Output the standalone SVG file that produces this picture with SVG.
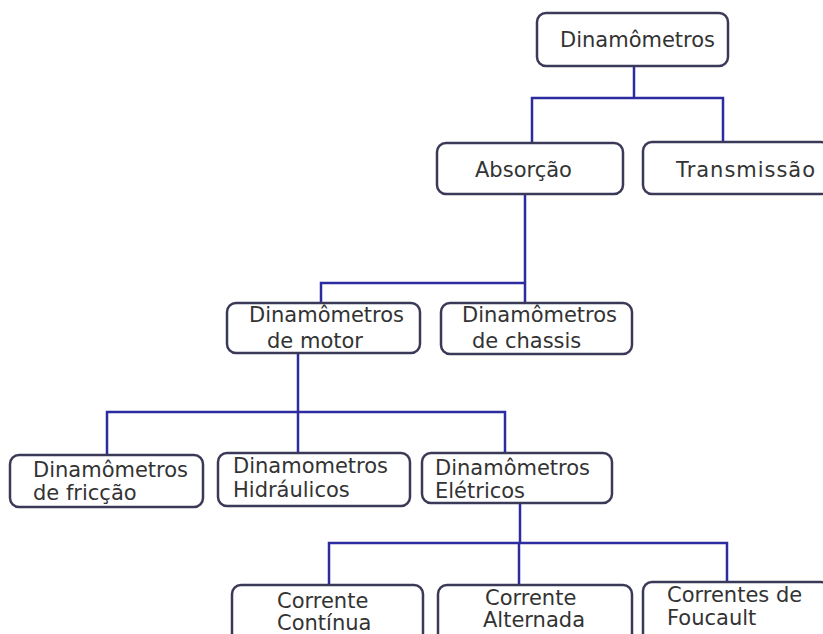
<svg xmlns="http://www.w3.org/2000/svg" width="823" height="634" viewBox="0 0 823 634">
<style>
.box{fill:#ffffff;stroke:#3a3a58;stroke-width:2.5}
.t{font-family:"DejaVu Sans",Verdana,sans-serif;font-size:21px;fill:#333333}
.c{fill:none;stroke:#2c2ca0;stroke-width:2.5}
</style>
<rect width="823" height="634" fill="#ffffff"/>
<g id="connectors">
<path class="c" d="M634 66V98M532 143V98H723V143"/>
<path class="c" d="M525 194V283M321 303V283H525V303"/>
<path class="c" d="M298 353V412M107 455V412H505V453M298 412V453"/>
<path class="c" d="M520 503V543M329 585V543H727V582M519 543V585"/>
</g>
<g id="dinamometros"><rect class="box" x="537" y="13" width="191" height="53" rx="9"/><text class="t" x="560" y="47">Dinamômetros</text></g>
<g id="absorcao"><rect class="box" x="437" y="143" width="186" height="51" rx="9"/><text class="t" x="475" y="177">Absorção</text></g>
<g id="transmissao"><rect class="box" x="643" y="142" width="187" height="52" rx="9"/><text class="t" x="676" y="177" textLength="139">Transmissão</text></g>
<g id="motor"><rect class="box" x="227" y="303" width="193" height="50" rx="9"/><text class="t" x="249" y="322">Dinamômetros</text><text class="t" x="267" y="348">de motor</text></g>
<g id="chassis"><rect class="box" x="441" y="303" width="191" height="51" rx="9"/><text class="t" x="462" y="322">Dinamômetros</text><text class="t" x="472" y="348">de chassis</text></g>
<g id="friccao"><rect class="box" x="10" y="455" width="193" height="52" rx="9"/><text class="t" x="33" y="477">Dinamômetros</text><text class="t" x="33" y="500">de fricção</text></g>
<g id="hidraulicos"><rect class="box" x="218" y="453" width="192" height="53" rx="9"/><text class="t" x="233" y="473">Dinamometros</text><text class="t" x="233" y="497">Hidráulicos</text></g>
<g id="eletricos"><rect class="box" x="422" y="453" width="190" height="50" rx="9"/><text class="t" x="435" y="475">Dinamômetros</text><text class="t" x="435" y="498">Elétricos</text></g>
<g id="continua"><rect class="box" x="232" y="585" width="191" height="60" rx="9"/><text class="t" x="277" y="608">Corrente</text><text class="t" x="277" y="630">Contínua</text></g>
<g id="alternada"><rect class="box" x="438" y="585" width="194" height="60" rx="9"/><text class="t" x="485" y="605">Corrente</text><text class="t" x="483" y="627">Alternada</text></g>
<g id="foucault"><rect class="box" x="643" y="582" width="187" height="63" rx="9"/><text class="t" x="667" y="602">Correntes de</text><text class="t" x="667" y="625">Foucault</text></g>
</svg>
